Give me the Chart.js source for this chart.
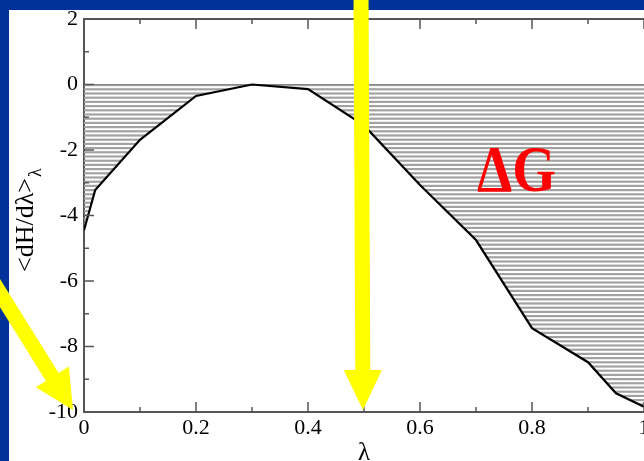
<!DOCTYPE html>
<html>
<head>
<meta charset="utf-8">
<script src="https://cdn.jsdelivr.net/npm/chart.js@4.4.0/dist/chart.umd.min.js"></script>
<style>
  html, body { margin: 0; padding: 0; background: #003399; overflow: hidden; }
  canvas { display: block; }
</style>
</head>
<body>
<canvas id="dgChart" width="644" height="461"></canvas>
<script>
// lambda windows and the averaged <dH/dlambda>
const lambdaValues = [0, 0.02, 0.1, 0.2, 0.3, 0.4, 0.5, 0.6, 0.7, 0.8, 0.9, 0.95, 1.0];
const dHdlValues = [-4.45, -3.22, -1.69, -0.35, 0.0, -0.14, -1.25, -3.07, -4.75, -7.44, -8.48, -9.43, -9.84];
const xRange = [0, 1];
const yRange = [-10, 2];
const xStep = 0.2;
const yStep = 2;
const xTitle = 'λ';
const yTitle = '<dH/dλ>';
const yTitleSub = 'λ';
const areaLabel = 'ΔG';

const serif = "'Liberation Serif', 'DejaVu Serif', serif";
const canvas = document.getElementById('dgChart');
const ctx = canvas.getContext('2d');

// horizontal hatch used for the area between the curve and zero
function hatchPattern() {
    const c = document.createElement('canvas');
    c.width = 8;
    c.height = 21;
    const g = c.getContext('2d');
    g.fillStyle = '#a2a2a2';
    for (let i = 0; i < 5; i++) {
        g.fillRect(0, i * 4.2, 8, 2.2);
    }
    return ctx.createPattern(c, 'repeat');
}

function arrow(g, x0, y0, x1, y1, shaftW, headW, headL) {
    const len = Math.hypot(x1 - x0, y1 - y0);
    g.save();
    g.translate(x1, y1);
    g.rotate(Math.atan2(y1 - y0, x1 - x0));
    g.beginPath();
    g.moveTo(0, 0);
    g.lineTo(-headL, -headW / 2);
    g.lineTo(-headL, -shaftW / 2);
    g.lineTo(-len, -shaftW / 2);
    g.lineTo(-len, shaftW / 2);
    g.lineTo(-headL, shaftW / 2);
    g.lineTo(-headL, headW / 2);
    g.closePath();
    g.fillStyle = '#ffff00';
    g.fill();
    g.restore();
}

const decorations = {
    id: 'decorations',
    beforeDraw(chart) {
        const g = chart.ctx;
        g.save();
        g.fillStyle = '#ffffff';
        g.fillRect(9, 10, chart.width - 9, chart.height - 10);
        g.restore();
    },
    afterDraw(chart) {
        const g = chart.ctx;
        const a = chart.chartArea;
        const x = chart.scales.x;
        const y = chart.scales.y;
        g.save();

        // inward tick marks, major and minor
        g.strokeStyle = '#555';
        g.lineWidth = 1.5;
        g.beginPath();
        x.ticks.forEach((t, i) => {
            const px = x.getPixelForValue(t.value);
            g.moveTo(px, a.bottom); g.lineTo(px, a.bottom - 10);
            g.moveTo(px, a.top); g.lineTo(px, a.top + 10);
            if (i < x.ticks.length - 1) {
                const pm = x.getPixelForValue((t.value + x.ticks[i + 1].value) / 2);
                g.moveTo(pm, a.bottom); g.lineTo(pm, a.bottom - 5);
                g.moveTo(pm, a.top); g.lineTo(pm, a.top + 5);
            }
        });
        y.ticks.forEach((t, i) => {
            const py = y.getPixelForValue(t.value);
            g.moveTo(a.left, py); g.lineTo(a.left + 10, py);
            if (i < y.ticks.length - 1) {
                const pm = y.getPixelForValue((t.value + y.ticks[i + 1].value) / 2);
                g.moveTo(a.left, pm); g.lineTo(a.left + 5, pm);
            }
        });
        g.stroke();

        // rotated y title with subscript
        g.fillStyle = '#000';
        g.translate(33, 272);
        g.rotate(-Math.PI / 2);
        g.textBaseline = 'alphabetic';
        g.textAlign = 'left';
        g.font = '26px ' + serif;
        g.fillText(yTitle, 0, 0);
        const w = g.measureText(yTitle).width;
        g.font = '18px ' + serif;
        g.fillText(yTitleSub, w + 1, 8);
        g.setTransform(1, 0, 0, 1, 0, 0);

        // area label
        g.font = 'bold 65px ' + serif;
        g.fillStyle = '#ff0000';
        const lw = g.measureText(areaLabel).width;
        g.translate(477, 191);
        g.scale(79 / lw, 1);
        g.fillText(areaLabel, 0, 0);
        g.setTransform(1, 0, 0, 1, 0, 0);

        // yellow arrows
        const tipY = y.getPixelForValue(yRange[0]) - 2;
        const midX = x.getPixelForValue(0.5) - 1;
        arrow(g, midX - 2, -10, midX, tipY, 15, 38, 40);
        const tipX = x.getPixelForValue(xRange[0]) - 11;
        arrow(g, tipX - 0.53 * 240, tipY - 0.848 * 240, tipX, tipY, 15, 39, 39);

        g.restore();
    }
};

new Chart(ctx, {
    type: 'line',
    data: {
        datasets: [{
            data: lambdaValues.map((l, i) => ({ x: l, y: dHdlValues[i] })),
            borderColor: '#000000',
            borderWidth: 2.2,
            pointRadius: 0,
            tension: 0,
            fill: { value: 0 },
            backgroundColor: hatchPattern(),
        }],
    },
    options: {
        responsive: false,
        animation: false,
        devicePixelRatio: 1,
        layout: { padding: { left: 9, top: 19, right: 0, bottom: 0 } },
        plugins: {
            legend: { display: false },
            tooltip: { enabled: false },
        },
        scales: {
            x: {
                type: 'linear',
                min: xRange[0],
                max: xRange[1],
                ticks: {
                    stepSize: xStep,
                    padding: 3,
                    color: '#000',
                    maxRotation: 0,
                    autoSkip: false,
                    font: { family: serif, size: 22 },
                    callback: v => String(Number(v.toFixed(1))),
                },
                grid: { display: false, drawTicks: false },
                border: { color: '#555', width: 2 },
                title: {
                    display: true,
                    text: xTitle,
                    color: '#000',
                    font: { family: serif, size: 25 },
                    padding: { top: 0, bottom: -7 },
                },
                afterFit(scale) {
                    scale.height = 49;
                    scale.paddingLeft = 0;
                    scale.paddingRight = 0;
                },
            },
            y: {
                type: 'linear',
                min: yRange[0],
                max: yRange[1],
                ticks: {
                    stepSize: yStep,
                    padding: 6,
                    color: '#000',
                    font: { family: serif, size: 22 },
                },
                grid: {
                    drawTicks: false,
                    color: c => c.tick.value === 0 ? '#666' : (c.tick.value === yRange[1] ? '#555' : 'rgba(0,0,0,0)'),
                    lineWidth: c => c.tick.value === yRange[1] ? 2 : 1.2,
                },
                border: { color: '#555', width: 2 },
                afterFit(scale) {
                    scale.width = 75;
                    scale.paddingTop = 0;
                    scale.paddingBottom = 0;
                },
            },
        },
    },
    plugins: [decorations],
});
</script>
</body>
</html>
